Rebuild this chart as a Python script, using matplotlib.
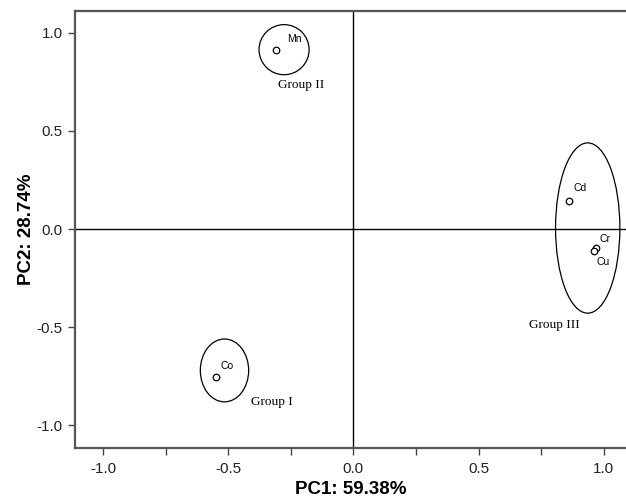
import numpy as np
import matplotlib.pyplot as plt
from matplotlib.patches import Ellipse
from matplotlib.ticker import MultipleLocator

# loadings
elements = ['Mn', 'Co', 'Cd', 'Cr', 'Cu']
pc1 = [-0.31, -0.55, 0.86, 0.97, 0.96]
pc2 = [0.91, -0.755, 0.145, -0.095, -0.11]
label_x = [-0.265, -0.53, 0.88, 0.985, 0.972]
label_y = [0.965, -0.70, 0.21, -0.05, -0.17]

# groups
group_names = ['Group I', 'Group II', 'Group III']
group_cx = [-0.515, -0.277, 0.936]
group_cy = [-0.72, 0.913, 0.005]
group_w = [0.193, 0.20, 0.257]
group_h = [0.32, 0.255, 0.867]
group_lx = [-0.41, -0.30, 0.70]
group_ly = [-0.88, 0.735, -0.49]

plt.rcParams['font.family'] = ['Liberation Sans', 'DejaVu Sans']

fig = plt.figure(figsize=(6.26, 5.04), dpi=100)
ax = fig.add_axes([0.1203, 0.1111, 0.8797, 0.8671])

ax.axhline(0, color='black', lw=1.0, zorder=1)
ax.axvline(0, color='black', lw=1.0, zorder=1)

ax.scatter(pc1, pc2, s=22, facecolors='white', edgecolors='black', linewidths=0.9, zorder=3)
for name, x, y in zip(elements, label_x, label_y):
    ax.text(x, y, name, fontsize=7.5, ha='left', va='center')

for name, cx, cy, w, h, lx, ly in zip(group_names, group_cx, group_cy, group_w,
                                       group_h, group_lx, group_ly):
    ax.add_patch(Ellipse((cx, cy), w, h, fill=False, edgecolor='black', lw=0.9, zorder=2))
    ax.text(lx, ly, name, fontsize=9.5, ha='left', va='center', family='Liberation Serif')

ax.set_xlim(-1.111, 1.089)
ax.set_ylim(-1.115, 1.11)
ax.xaxis.set_major_locator(MultipleLocator(0.5))
ax.xaxis.set_minor_locator(MultipleLocator(0.25))
ax.yaxis.set_major_locator(MultipleLocator(0.5))
ax.xaxis.set_major_formatter(plt.FuncFormatter(lambda v, p: '%.1f' % v))
ax.yaxis.set_major_formatter(plt.FuncFormatter(lambda v, p: '%.1f' % v))

for s in ['left', 'bottom', 'top']:
    ax.spines[s].set_color('#555555')
    ax.spines[s].set_linewidth(1.6)
ax.spines['right'].set_visible(False)

ax.tick_params(axis='both', which='both', direction='out', length=5, width=1.0,
               color='#444444', labelsize=11, labelcolor='#222222')
ax.tick_params(axis='x', pad=5)
ax.tick_params(axis='y', pad=4)

ax.set_xlabel('PC1: 59.38%', fontsize=13.5, fontweight='bold', labelpad=4)
ax.set_ylabel('PC2: 28.74%', fontsize=13.5, fontweight='bold', labelpad=1.5)

fig.savefig('out.png', dpi=100)
